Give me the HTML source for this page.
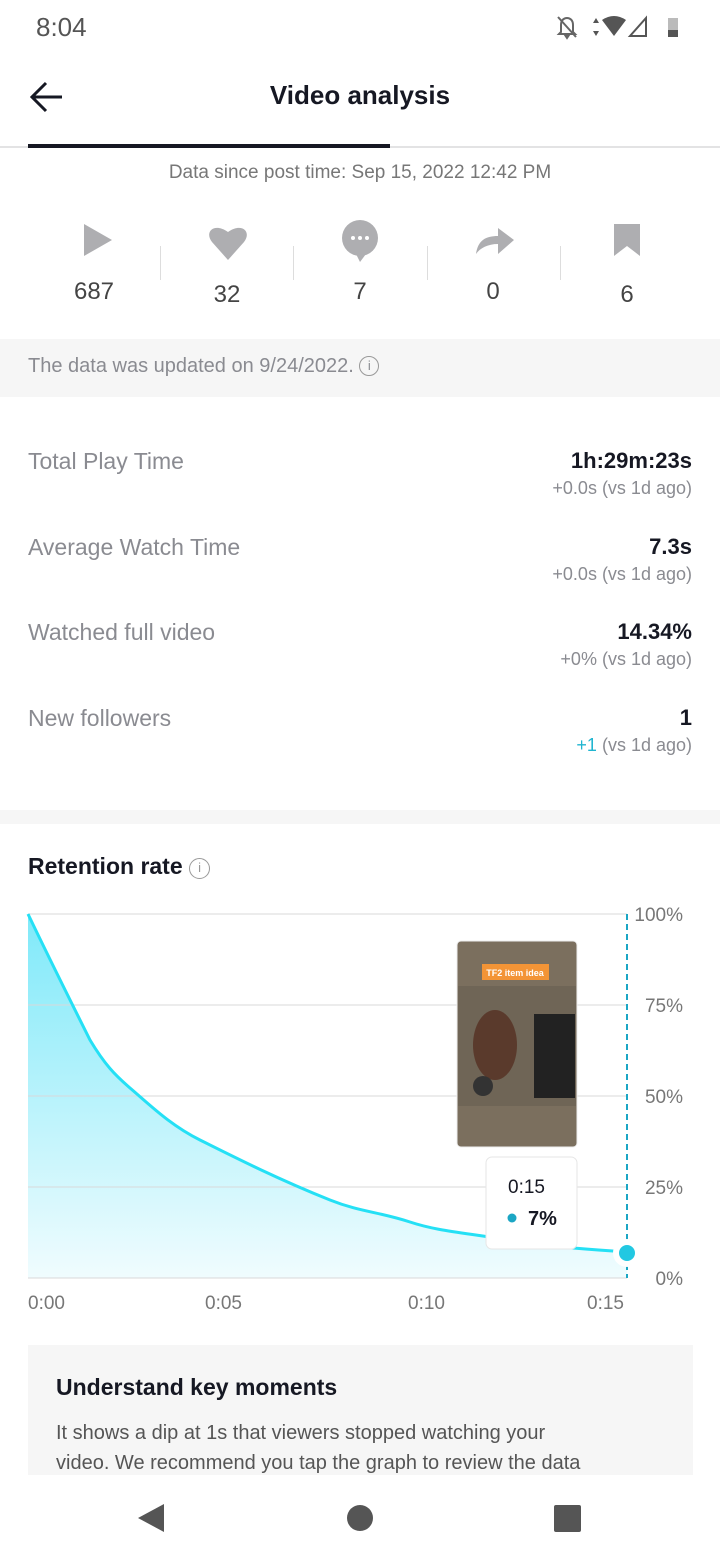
<!DOCTYPE html>
<html><head><meta charset="utf-8"><style>
*{margin:0;padding:0;box-sizing:border-box}
body{width:720px;height:1560px;background:#fff;font-family:"Liberation Sans",sans-serif;position:relative;overflow:hidden;color:#161823}
.a{position:absolute}
.g{color:#8a8b91}
</style></head><body>
<div class="a" style="left:36px;top:12px;font-size:26px;color:#555">8:04</div>
<svg class="a" style="left:554px;top:14px" width="28" height="26"><path d="M7 18 V11 C7 6 10 4 13 4 C16 4 19 6 19 11 V18 L21 20 H5z M11 21 H15 L13 24z" fill="none" stroke="#666" stroke-width="2"/><line x1="4" y1="3" x2="22" y2="23" stroke="#666" stroke-width="2"/></svg>
<svg class="a" style="left:590px;top:14px" width="95" height="26"><path d="M6 4l3 5H3z M6 22l3-5H3z" fill="#555"/><path d="M12 6 Q24 -2 36 6 L24 22z" fill="#555"/><path d="M40 22 L56 4 V22z" fill="none" stroke="#555" stroke-width="2"/><rect x="78" y="4" width="10" height="19" fill="#bbb"/><rect x="78" y="16" width="10" height="7" fill="#555"/></svg>
<svg class="a" style="left:28px;top:80px" width="40" height="36"><path d="M34 17H4 M18 3 4 17 18 31" fill="none" stroke="#161823" stroke-width="3"/></svg>
<div class="a" style="left:0;width:720px;top:80px;text-align:center;font-size:26px;font-weight:bold">Video analysis</div>
<div class="a" style="left:0;top:146px;width:720px;height:2px;background:#e3e3e4"></div>
<div class="a" style="left:28px;top:144px;width:362px;height:4px;background:#161823"></div>
<div class="a g" style="left:0;width:720px;top:162px;text-align:center;font-size:19px;color:#777">Data since post time: Sep 15, 2022 12:42 PM</div>
<svg class="a" style="left:0;top:220px" width="720" height="60" fill="#aeaeb1">
<path d="M84 4 L84 36 L112 20z"/>
<path d="M228 40 L212 22 C204 12 214 2 228 12 C242 2 252 12 244 22z"/>
<circle cx="360" cy="18" r="18"/><path d="M356 34 L366 34 L360 42z"/><circle cx="353" cy="18" r="2" fill="#fff"/><circle cx="360" cy="18" r="2" fill="#fff"/><circle cx="367" cy="18" r="2" fill="#fff"/>
<path d="M476 34 C478 20 486 16 498 16 L498 8 L514 20 L498 34 L498 24 C488 24 480 28 476 34z"/>
<path d="M614 4 H640 V36 L627 26 L614 36z"/>
<rect x="160" y="26" width="1" height="34" fill="#ddd"/><rect x="293" y="26" width="1" height="34" fill="#ddd"/><rect x="427" y="26" width="1" height="34" fill="#ddd"/><rect x="560" y="26" width="1" height="34" fill="#ddd"/>
</svg>
<div class="a" style="top:278px;left:0;width:720px;font-size:24px;color:#444">
<span class="a" style="left:54px;width:80px;text-align:center">687</span><span class="a" style="left:187px;width:80px;text-align:center;top:3px">32</span><span class="a" style="left:320px;width:80px;text-align:center">7</span><span class="a" style="left:453px;width:80px;text-align:center">0</span><span class="a" style="left:587px;width:80px;text-align:center;top:3px">6</span></div>
<div class="a" style="left:0;top:339px;width:720px;height:58px;background:#f6f6f6"></div>
<div class="a g" style="left:28px;top:355px;font-size:20px">The data was updated on 9/24/2022. <span style="display:inline-block;width:20px;height:20px;border:1.5px solid #999;border-radius:50%;font-size:13px;text-align:center;line-height:17px;vertical-align:2px">i</span></div>
<div class="a g" style="left:28px;top:448px;font-size:23px">Total Play Time</div>
<div class="a" style="right:28px;top:448px;font-size:22px;font-weight:bold;text-align:right">1h:29m:23s</div>
<div class="a g" style="right:28px;top:478px;font-size:18px">+0.0s (vs 1d ago)</div>
<div class="a g" style="left:28px;top:534px;font-size:23px">Average Watch Time</div>
<div class="a" style="right:28px;top:534px;font-size:22px;font-weight:bold">7.3s</div>
<div class="a g" style="right:28px;top:564px;font-size:18px">+0.0s (vs 1d ago)</div>
<div class="a g" style="left:28px;top:619px;font-size:23px">Watched full video</div>
<div class="a" style="right:28px;top:619px;font-size:22px;font-weight:bold">14.34%</div>
<div class="a g" style="right:28px;top:649px;font-size:18px">+0% (vs 1d ago)</div>
<div class="a g" style="left:28px;top:705px;font-size:23px">New followers</div>
<div class="a" style="right:28px;top:705px;font-size:22px;font-weight:bold">1</div>
<div class="a g" style="right:28px;top:735px;font-size:18px"><span style="color:#20b5d0">+1</span> (vs 1d ago)</div>
<div class="a" style="left:0;top:810px;width:720px;height:14px;background:#f6f6f6"></div>
<div class="a" style="left:28px;top:853px;font-size:23px;font-weight:bold">Retention rate <span style="display:inline-block;width:21px;height:21px;border:1.5px solid #999;border-radius:50%;font-size:13px;text-align:center;line-height:18px;color:#999;font-weight:normal;vertical-align:2px">i</span></div>
<svg class="a" style="left:0;top:900px" width="720" height="420">
<defs><linearGradient id="f" x1="0" y1="0" x2="0" y2="1"><stop offset="0" stop-color="#7fe9f9"/><stop offset="1" stop-color="#f0fcfe"/></linearGradient></defs>
<path d="M28 14 C50 60 70 100 90 140 C105 165 115 175 130 188 C150 205 170 225 200 240 C240 260 280 280 330 300 C360 312 380 312 410 322 C440 332 470 333 520 342 C560 348 600 350 627 352 L627 378 L28 378z" fill="url(#f)"/>
<g stroke="#d8d8da" stroke-width="1"><line x1="28" y1="14" x2="627" y2="14"/><line x1="28" y1="105" x2="627" y2="105"/><line x1="28" y1="196" x2="627" y2="196"/><line x1="28" y1="287" x2="627" y2="287"/><line x1="28" y1="378" x2="627" y2="378"/></g>
<path d="M28 14 C50 60 70 100 90 140 C105 165 115 175 130 188 C150 205 170 225 200 240 C240 260 280 280 330 300 C360 312 380 312 410 322 C440 332 470 333 520 342 C560 348 600 350 627 352" fill="none" stroke="#25e0f5" stroke-width="3" stroke-linejoin="round"/>
<line x1="627" y1="14" x2="627" y2="378" stroke="#1ba6c4" stroke-width="2" stroke-dasharray="6,4"/>
<circle cx="627" cy="353" r="14" fill="#fff"/><circle cx="627" cy="353" r="8" fill="#22c8e2"/>
<g font-size="19" fill="#777"><text x="683" y="21" text-anchor="end">100%</text><text x="683" y="112" text-anchor="end">75%</text><text x="683" y="203" text-anchor="end">50%</text><text x="683" y="294" text-anchor="end">25%</text><text x="683" y="385" text-anchor="end">0%</text>
<text x="28" y="409">0:00</text><text x="205" y="409">0:05</text><text x="408" y="409">0:10</text><text x="587" y="409">0:15</text></g>
<rect x="457" y="41" width="120" height="206" rx="4" fill="#7b6f5e" stroke="#eee"/>
<rect x="458" y="86" width="118" height="120" fill="#6f6556"/>
<rect x="482" y="64" width="67" height="16" fill="#f39436"/><text x="515" y="76" font-size="9" fill="#fff" text-anchor="middle" font-weight="bold">TF2 item idea</text>
<rect x="534" y="114" width="41" height="84" fill="#222"/>
<ellipse cx="495" cy="145" rx="22" ry="35" fill="#5a3a2c"/><circle cx="483" cy="186" r="10" fill="#333"/>
<rect x="486" y="257" width="91" height="92" rx="6" fill="#fff" stroke="#e6e6e6"/>
<text x="508" y="293" font-size="19" fill="#161823">0:15</text>
<circle cx="512" cy="318" r="4.5" fill="#1ba6c4"/><text x="528" y="325" font-size="20" font-weight="bold" fill="#161823">7%</text>
</svg>
<div class="a" style="left:28px;top:1345px;width:665px;height:130px;background:#f6f6f6"></div>
<div class="a" style="left:56px;top:1374px;font-size:23px;font-weight:bold">Understand key moments</div>
<div class="a" style="left:56px;top:1418px;width:610px;font-size:20px;line-height:30px;color:#555">It shows a dip at 1s that viewers stopped watching your<br>video. We recommend you tap the graph to review the data</div>
<div class="a" style="left:0;top:1475px;width:720px;height:85px;background:#fff"></div>
<svg class="a" style="left:0;top:1495px" width="720" height="50"><path d="M164 9 V37 L138 23z" fill="#555"/><circle cx="360" cy="23" r="13" fill="#555"/><rect x="554" y="10" width="27" height="27" rx="2" fill="#555"/></svg>
</body></html>
